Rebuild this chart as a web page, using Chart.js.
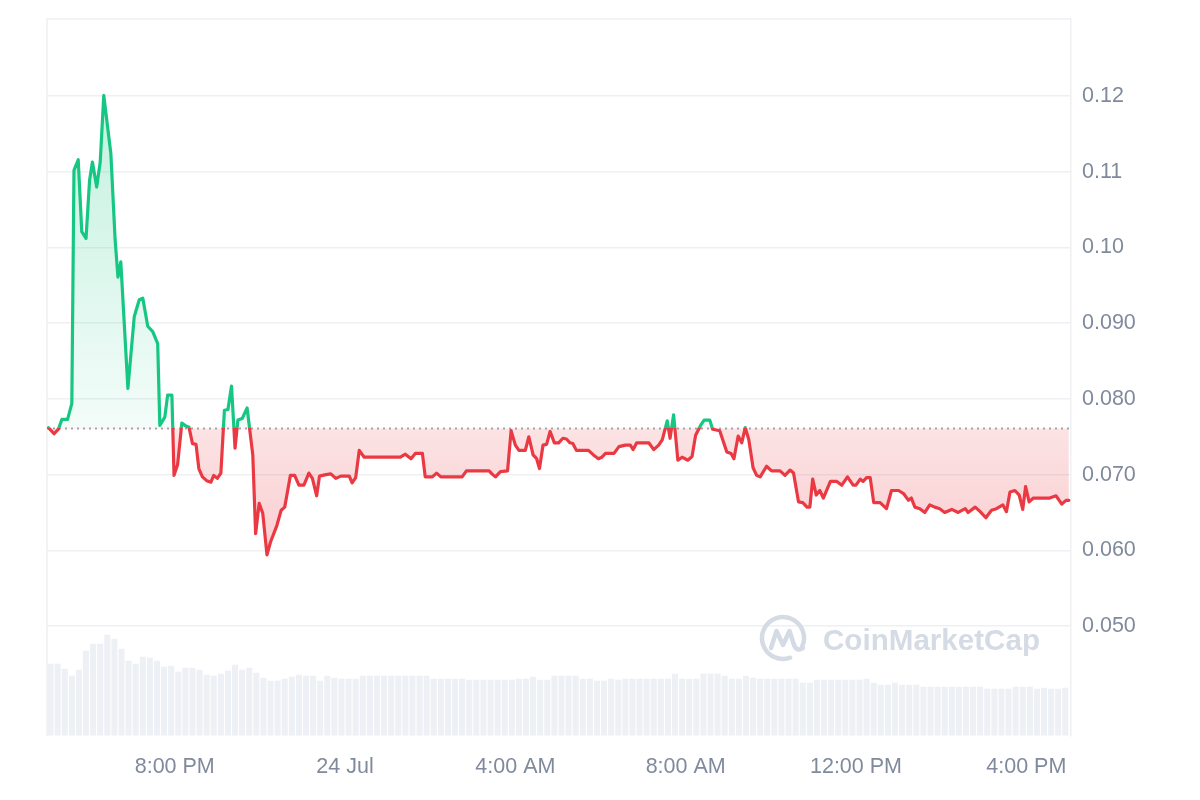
<!DOCTYPE html>
<html>
<head>
<meta charset="utf-8">
<script src="https://cdn.jsdelivr.net/npm/chart.js@4.4.1/dist/chart.umd.min.js"></script>
<style>
  html, body { margin: 0; padding: 0; background: #ffffff; }
  #wrap { width: 1200px; height: 800px; }
</style>
</head>
<body>
<div id="wrap"><canvas id="c" width="1200" height="800"></canvas></div>
<script>
// ---- data (minutes since 5:00 PM, 23 Jul) ----
const priceMinutes = [2,10,16,21,29,35,38,44,49,55,60,64,70,75,80,90,96,100,104,114,123,130,135,142,149,156,159,166,170,176,179,184,190,196,200,205,210,214,219,225,231,235,240,245,250,255,260,265,269,275,282,290,294,299,304,310,315,324,330,335,343,349,355,362,369,374,380,384,393,400,407,414,426,430,435,440,447,498,505,513,519,529,533,543,549,555,585,591,623,627,632,639,649,654,660,665,674,679,685,690,694,699,704,709,715,721,727,732,737,741,746,763,770,777,782,787,799,806,815,822,826,831,848,855,862,867,874,878,883,889,895,903,909,914,921,926,934,938,948,958,964,968,974,979,984,989,995,1000,1005,1014,1021,1033,1040,1047,1052,1059,1065,1071,1075,1079,1084,1089,1094,1104,1113,1120,1128,1136,1140,1146,1150,1155,1160,1165,1174,1183,1190,1200,1207,1214,1218,1223,1230,1237,1244,1251,1258,1265,1275,1284,1294,1298,1308,1315,1323,1331,1338,1347,1352,1357,1364,1370,1375,1379,1384,1390,1413,1422,1430,1436,1440];
const priceValues = [0.0762,0.0754,0.0760,0.0773,0.0773,0.0794,0.1102,0.1116,0.1021,0.1012,
0.1089,0.1113,0.1080,0.1113,0.1201,0.1124,0.1010,0.0961,0.0981,0.0814,
0.0909,0.0931,0.0933,0.0896,0.0889,0.0873,0.0765,0.0776,0.0805,0.0805,
0.0699,0.0713,0.0768,0.0764,0.0763,0.0741,0.0740,0.0708,0.0697,0.0692,
0.0690,0.0699,0.0695,0.0702,0.0785,0.0786,0.0817,0.0735,0.0772,0.0774,
0.0788,0.0726,0.0622,0.0662,0.0649,0.0594,0.0611,0.0633,0.0653,0.0657,
0.0699,0.0699,0.0686,0.0686,0.0702,0.0695,0.0672,0.0698,0.0700,0.0701,
0.0695,0.0698,0.0698,0.0689,0.0696,0.0732,0.0723,0.0723,0.0727,0.0721,
0.0728,0.0728,0.0697,0.0697,0.0702,0.0697,0.0697,0.0705,0.0705,0.0701,
0.0697,0.0704,0.0705,0.0758,0.0739,0.0732,0.0732,0.0750,0.0726,0.0721,
0.0708,0.0739,0.0740,0.0757,0.0742,0.0742,0.0748,0.0747,0.0742,0.0741,
0.0732,0.0732,0.0726,0.0721,0.0723,0.0728,0.0728,0.0737,0.0739,0.0739,
0.0733,0.0742,0.0742,0.0733,0.0739,0.0746,0.0771,0.0748,0.0779,0.0719,
0.0723,0.0719,0.0724,0.0752,0.0765,0.0772,0.0772,0.0760,0.0758,0.0730,
0.0728,0.0721,0.0751,0.0742,0.0762,0.0746,0.0709,0.0699,0.0697,0.0711,
0.0705,0.0705,0.0699,0.0706,0.0702,0.0664,0.0663,0.0657,0.0657,0.0694,
0.0673,0.0679,0.0669,0.0691,0.0691,0.0686,0.0697,0.0686,0.0686,0.0694,
0.0691,0.0696,0.0696,0.0663,0.0663,0.0655,0.0679,0.0679,0.0675,0.0666,
0.0669,0.0657,0.0655,0.0650,0.0660,0.0657,0.0655,0.0650,0.0654,0.0650,
0.0655,0.0650,0.0657,0.0651,0.0643,0.0653,0.0655,0.0660,0.0651,0.0677,
0.0679,0.0673,0.0654,0.0684,0.0664,0.0669,0.0669,0.0672,0.0661,0.0666,
0.0666];
const openPrice = 0.0761;

// volume, one bar per 10 minutes (relative units)
const volStartMin = 5;
const volStepMin = 10;
const volumeK = [72,72,67,60,66,85,92,92,101,97, 87,75,72,79,78,75,69,70,64,68,
68,66,61,60,62,65,71,66,68,63, 58,55,55,57,59,61,60,60,55,60,
58,57,57,57,60,60,60,60,60,60, 60,60,60,60,57,57,57,57,57,56,
56,56,56,56,56,56,57,57,59,56, 56,60,60,60,60,57,57,55,55,57,
56,57,57,57,57,57,57,57,62,57, 57,57,62,62,62,60,57,57,60,58,
57,57,57,57,57,57,53,53,56,56, 56,56,56,56,56,57,53,51,51,53,
51,51,51,49,49,49,49,49,49,49, 49,49,47,47,47,47,49,49,49,47,
48,47,47,48];

const xTickMinutes = [180, 420, 660, 900, 1140, 1380];
const xTickLabels = ['8:00 PM', '24 Jul', '4:00 AM', '8:00 AM', '12:00 PM', '4:00 PM'];
const yTickValues = [0.05, 0.06, 0.07, 0.08, 0.09, 0.10, 0.11, 0.12];
const yTickLabels = ['0.050', '0.060', '0.070', '0.080', '0.090', '0.10', '0.11', '0.12'];

// ---- styles ----
const GREEN = '#16c784';
const RED = '#ea3943';
const GRID = '#eef0f3';
const TEXT = '#808a9d';
const FONT = '"Liberation Sans", Arial, Helvetica, sans-serif';

const pricePoints = priceMinutes.map((m, i) => ({ x: m, y: priceValues[i] }));
const volumePoints = volumeK.map((v, i) => ({ x: volStartMin + i * volStepMin, y: v }));
const basePoints = [{ x: 0, y: openPrice }, { x: 1443, y: openPrice }];

function baseFrac(chart) {
  const a = chart.chartArea;
  const yb = chart.scales.y.getPixelForValue(openPrice);
  return Math.min(1, Math.max(0, (yb - a.top) / (a.bottom - a.top)));
}

function lineColor(ctx) {
  const chart = ctx.chart;
  const a = chart.chartArea;
  if (!a) return GREEN;
  const t = baseFrac(chart);
  const g = chart.ctx.createLinearGradient(0, a.top, 0, a.bottom);
  g.addColorStop(0, GREEN);
  g.addColorStop(t, GREEN);
  g.addColorStop(t, RED);
  g.addColorStop(1, RED);
  return g;
}

function fillColor(ctx) {
  const chart = ctx.chart;
  const a = chart.chartArea;
  if (!a) return 'rgba(0,0,0,0)';
  const t = baseFrac(chart);
  const g = chart.ctx.createLinearGradient(0, a.top, 0, a.bottom);
  g.addColorStop(0, 'rgba(22,199,132,0.30)');
  g.addColorStop(t, 'rgba(22,199,132,0.05)');
  g.addColorStop(t, 'rgba(234,57,67,0.14)');
  g.addColorStop(1, 'rgba(234,57,67,0.40)');
  return g;
}

const framePlugin = {
  id: 'frameAndWatermark',
  beforeDatasetsDraw(chart) {
    const { ctx, chartArea: a } = chart;
    ctx.save();
    ctx.strokeStyle = GRID;
    ctx.lineWidth = 1.5;
    ctx.beginPath();
    ctx.moveTo(a.left, a.bottom);
    ctx.lineTo(a.left, a.top);
    ctx.lineTo(a.right, a.top);
    ctx.stroke();

    // watermark
    const wm = '#d5dbe4';
    ctx.strokeStyle = wm;
    ctx.fillStyle = wm;
    ctx.lineWidth = 4.5;
    ctx.lineCap = 'round';
    ctx.lineJoin = 'round';
    const cx = 783, cy = 638, r = 21;
    ctx.beginPath();
    ctx.arc(cx, cy, r, 70 * Math.PI / 180, 385 * Math.PI / 180);
    ctx.stroke();
    ctx.beginPath();
    ctx.moveTo(771, 648);
    ctx.lineTo(776.5, 631);
    ctx.lineTo(783, 645);
    ctx.lineTo(789.5, 631);
    ctx.lineTo(794, 645);
    ctx.quadraticCurveTo(797, 652, 803, 648);
    ctx.stroke();
    ctx.font = 'bold 30px ' + FONT;
    ctx.textBaseline = 'alphabetic';
    ctx.textAlign = 'left';
    ctx.fillText('CoinMarketCap', 823, 650, 217);
    ctx.restore();
  }
};

new Chart(document.getElementById('c'), {
  type: 'line',
  data: {
    datasets: [
      {
        type: 'line',
        data: pricePoints,
        borderColor: lineColor,
        backgroundColor: fillColor,
        fill: { target: { value: openPrice } },
        borderWidth: 3.2,
        pointRadius: 0,
        tension: 0,
        borderJoinStyle: 'round',
        borderCapStyle: 'round',
        yAxisID: 'y',
        order: 1
      },
      {
        type: 'line',
        data: basePoints,
        borderColor: '#a3a9b4',
        borderWidth: 2,
        borderDash: [2, 4],
        pointRadius: 0,
        fill: false,
        yAxisID: 'y',
        order: 2
      },
      {
        type: 'bar',
        data: volumePoints,
        backgroundColor: '#edf0f4',
        borderWidth: 0,
        barPercentage: 0.85,
        categoryPercentage: 1,
        yAxisID: 'yv',
        order: 3
      }
    ]
  },
  options: {
    responsive: false,
    animation: false,
    devicePixelRatio: 1,
    layout: { padding: { top: 19, left: 47, right: 0, bottom: 0 } },
    plugins: { legend: { display: false }, tooltip: { enabled: false } },
    scales: {
      x: {
        type: 'linear',
        min: 0,
        max: 1443,
        offset: false,
        grid: { display: false, drawTicks: false },
        border: { display: false },
        afterBuildTicks: (s) => { s.ticks = xTickMinutes.map(v => ({ value: v })); },
        afterFit: (s) => { s.height = 64.3; s.paddingLeft = 0; s.paddingRight = 0; },
        ticks: {
          autoSkip: false,
          maxRotation: 0,
          padding: 18,
          color: TEXT,
          font: { family: FONT, size: 21.5 },
          callback: (v, i) => xTickLabels[i]
        }
      },
      y: {
        type: 'linear',
        position: 'right',
        min: 0.0355,
        max: 0.1302,
        grid: { color: GRID, lineWidth: 1.5, drawTicks: false },
        border: { display: true, color: GRID, width: 1.5 },
        afterBuildTicks: (s) => { s.ticks = yTickValues.map(v => ({ value: v })); },
        afterFit: (s) => { s.width = 129; s.paddingTop = 0; s.paddingBottom = 0; },
        ticks: {
          padding: 11,
          color: TEXT,
          font: { family: FONT, size: 21.5 },
          callback: (v, i) => yTickLabels[i]
        }
      },
      yv: {
        type: 'linear',
        display: false,
        min: 0,
        max: 716.7
      }
    }
  },
  plugins: [framePlugin]
});
</script>
</body>
</html>
